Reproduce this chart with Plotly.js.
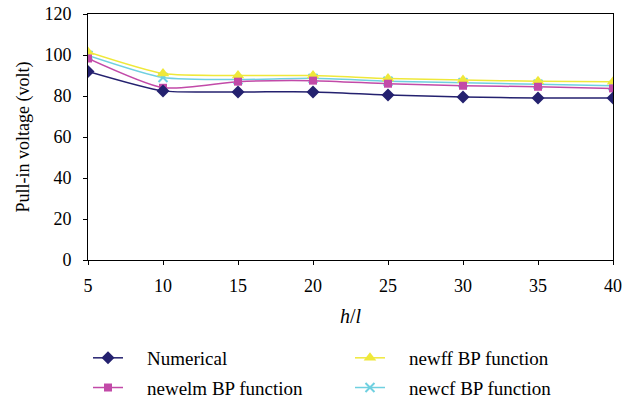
<!DOCTYPE html>
<html>
<head>
<meta charset="utf-8">
<script src="https://cdn.plot.ly/plotly-3.0.1.min.js"></script>
<style>html,body{margin:0;padding:0;background:#fff;}#chart{width:634px;height:398px;}</style>
</head>
<body>
<div id="chart"></div>
<script>
const hl = [5, 10, 15, 20, 25, 30, 35, 40];
const numerical = [92, 82.5, 82, 82, 80.5, 79.5, 79, 79];
const newelm = [98.3, 84, 87, 87.5, 86, 85, 84.5, 83.7];
const newff = [101.5, 91, 90, 90, 88.5, 87.8, 87.2, 87];
const newcf = [99.8, 89, 88, 88.6, 87.2, 86.5, 85.7, 85];

const seriesNames = ["Numerical", "newelm BP function", "newff BP function", "newcf BP function"];
const pad = '\u00a0\u00a0\u00a0\u00a0';
const SERIF = '"Liberation Serif", "Times New Roman", Times, serif';

const traces = [
  {x: hl, y: newcf, name: pad + seriesNames[3], legend: 'legend2', legendgroup: 'd', legendrank: 2, line: {color: '#6fd0e0', width: 1.5, shape: 'spline', smoothing: 0.6}, marker: {symbol: 'x-thin', size: 9, line: {color: '#6fd0e0', width: 2}, color: '#6fd0e0'}},
  {x: hl, y: newff, name: pad + seriesNames[2], legend: 'legend2', legendgroup: 'c', legendrank: 1, line: {color: '#efe83a', width: 1.5, shape: 'spline', smoothing: 0.6}, marker: {symbol: 'triangle-up', size: 11, color: '#efe83a'}},
  {x: hl, y: newelm, name: pad + seriesNames[1], legend: 'legend', legendgroup: 'b', legendrank: 2, line: {color: '#c24aa8', width: 1.5, shape: 'spline', smoothing: 0.6}, marker: {symbol: 'square', size: 8, color: '#c24aa8'}},
  {x: hl, y: numerical, name: pad + seriesNames[0], legend: 'legend', legendgroup: 'a', legendrank: 1, line: {color: '#24216f', width: 1.5, shape: 'spline', smoothing: 0.6}, marker: {symbol: 'diamond', size: 10, color: '#24216f'}}
].map(t => Object.assign({type: 'scatter', mode: 'lines+markers'}, t));

const legendBase = {
  orientation: 'v', xanchor: 'left', y: -0.321, yanchor: 'top',
  traceorder: 'grouped', tracegroupgap: 2,
  font: {family: SERIF, size: 19, color: '#000'},
  itemwidth: 30, bgcolor: 'rgba(0,0,0,0)'
};

const layout = {
  width: 634, height: 398,
  margin: {l: 88, r: 21, t: 14, b: 138, autoexpand: false},
  paper_bgcolor: '#fff', plot_bgcolor: '#fff',
  font: {family: SERIF, size: 18, color: '#000'},
  showlegend: true,
  legend: Object.assign({}, legendBase, {x: 0}),
  legend2: Object.assign({}, legendBase, {x: 0.499}),
  xaxis: {
    range: [5, 40], tickvals: hl, ticktext: hl.map(String),
    showline: true, linecolor: '#000', linewidth: 1, mirror: true,
    ticks: 'outside', ticklen: 4, tickcolor: '#000', showgrid: false, zeroline: false,
    ticklabelstandoff: 5, tickfont: {family: SERIF, size: 18, color: '#000'},
    title: {text: '<i>h</i>/<i>l</i>', font: {family: SERIF, size: 20, color: '#000'}, standoff: 14}
  },
  yaxis: {
    range: [0, 120], dtick: 20,
    showline: true, linecolor: '#000', linewidth: 1, mirror: true,
    ticks: 'outside', ticklen: 4, tickcolor: '#000', showgrid: false, zeroline: false,
    ticklabelstandoff: 8, tickfont: {family: SERIF, size: 18, color: '#000'},
    title: {text: 'Pull-in voltage (volt)', font: {family: SERIF, size: 18, color: '#000'}, standoff: 10}
  }
};

Plotly.newPlot('chart', traces, layout, {displayModeBar: false, staticPlot: true});
</script>
</body>
</html>
